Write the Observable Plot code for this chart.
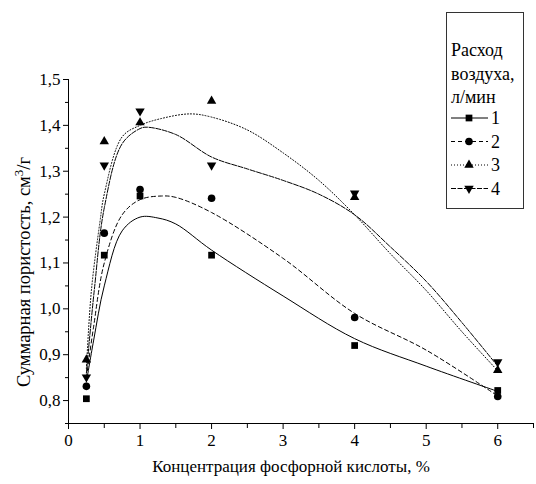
<!DOCTYPE html>
<html>
<head>
<meta charset="utf-8">
<script src="https://cdn.jsdelivr.net/npm/d3@7"></script>
<script src="https://cdn.jsdelivr.net/npm/@observablehq/plot@0.6"></script>
<style>
  html, body { margin: 0; padding: 0; background: #fff; }
  #chart svg { display: block; }
</style>
</head>
<body>
<div id="chart"></div>
<script>
// Measured points
const xs = [0.25, 0.5, 1, 2, 4, 6];
const s1 = [0.804, 1.117, 1.246, 1.117, 0.920, 0.822];
const s2 = [0.831, 1.165, 1.260, 1.241, 0.981, 0.809];
const s3 = [0.889, 1.365, 1.406, 1.453, 1.243, 0.866];
const s4 = [0.851, 1.313, 1.431, 1.313, 1.252, 0.884];

// Fitted curves
const fitX1 = [0.25, 0.35, 0.5, 0.75, 1, 1.25, 1.5, 2, 3, 4, 5, 6];
const fit1  = [0.84, 0.93, 1.05, 1.17, 1.20, 1.198, 1.185, 1.128, 1.028, 0.935, 0.875, 0.82];
const fitX2 = [0.25, 0.35, 0.5, 0.75, 1, 1.3, 1.5, 2, 3, 4, 5, 6];
const fit2  = [0.85, 0.96, 1.10, 1.205, 1.238, 1.246, 1.243, 1.21, 1.11, 0.99, 0.91, 0.81];
const fitX3 = [0.25, 0.32, 0.44, 0.5, 0.75, 1, 1.3, 1.7, 2, 2.5, 3, 3.5, 4, 4.5, 5, 5.5, 6];
const fit3  = [0.87, 1.04, 1.19, 1.25, 1.375, 1.40, 1.415, 1.425, 1.418, 1.39, 1.34, 1.28, 1.205, 1.12, 1.04, 0.95, 0.865];
const fitX4 = [0.25, 0.36, 0.5, 0.75, 1, 1.1, 1.5, 2, 2.5, 3, 3.5, 4, 4.5, 5, 5.5, 6];
const fit4  = [0.86, 1.04, 1.22, 1.36, 1.393, 1.396, 1.38, 1.331, 1.305, 1.28, 1.25, 1.205, 1.135, 1.06, 0.97, 0.875];

const seriesNames = ["1", "2", "3", "4"];
const legendTitle = ["Расход", "воздуха,", "л/мин"];
const xTicks = [0, 1, 2, 3, 4, 5, 6];
const yTicks = [0.8, 0.9, 1.0, 1.1, 1.2, 1.3, 1.4, 1.5];
const xLabel = "Концентрация фосфорной кислоты, %";

function triangle(dir) {
  return {
    draw(ctx, size) {
      const s = Math.sqrt(size * 4 / Math.sqrt(3));
      const h = s * Math.sqrt(3) / 2;
      ctx.moveTo(-s / 2, dir * h / 3);
      ctx.lineTo(s / 2, dir * h / 3);
      ctx.lineTo(0, -dir * 2 * h / 3);
      ctx.closePath();
    }
  };
}
const triUp = triangle(1);
const triDown = triangle(-1);
const symbols = ["square", "circle", triUp, triDown];
const dashes = [null, "4,3", "1,2", "5,1.5"];
const rs = [3.8, 3.8, 3.5, 3.5];

const pts = [];
[s1, s2, s3, s4].forEach((arr, i) => arr.forEach((v, j) => pts.push({x: xs[j], y: v, s: i})));
const fits = [[fitX1, fit1], [fitX2, fit2], [fitX3, fit3], [fitX4, fit4]].map(([fx, fy]) => fx.map((x, j) => ({x, y: fy[j]})));

const fmt = v => d3.format(".1f")(v).replace(".", ",");
const FONT = "'Liberation Serif', 'Times New Roman', Times, 'DejaVu Serif', serif";

const marks = [
  Plot.frame({anchor: "left"}),
  Plot.frame({anchor: "bottom"}),
  Plot.axisY(d3.range(0.75, 1.501, 0.05).filter(v => Math.abs(Math.round(v * 10) - v * 10) > 0.01), {tickSize: 3, tickFormat: () => ""}),
  Plot.axisY(yTicks, {tickSize: 5, tickFormat: fmt, fontSize: 17, tickPadding: 3, label: null}),
  Plot.axisX(d3.range(0.5, 6.6, 1), {tickSize: 5, tickFormat: () => ""}),
  Plot.axisX(xTicks, {tickSize: 6, tickFormat: d => String(d), fontSize: 17, tickPadding: 4, label: null}),
];
fits.forEach((f, i) => {
  marks.push(Plot.line(f, {x: "x", y: "y", curve: "catmull-rom", stroke: "black", strokeWidth: 1, strokeDasharray: dashes[i]}));
});
symbols.forEach((sym, i) => {
  marks.push(Plot.dot(pts.filter(d => d.s === i), {x: "x", y: "y", symbol: sym, r: rs[i], fill: "black", stroke: "none"}));
});

const plot = Plot.plot({
  width: 536,
  height: 484,
  marginLeft: 68,
  marginRight: 3,
  marginTop: 79,
  marginBottom: 61,
  style: {fontFamily: FONT, color: "black", background: "white"},
  x: {domain: [0, 6.5], label: null},
  y: {domain: [0.75, 1.5], label: null},
  marks
});
document.getElementById("chart").appendChild(plot);

const svg = d3.select(plot);
// x title
svg.append("text").attr("x", 291).attr("y", 472).attr("text-anchor", "middle")
  .style("font-family", FONT).attr("font-size", 17).attr("fill", "black").text(xLabel);
// y title with superscript
const yt = svg.append("text").attr("transform", "translate(30,272) rotate(-90)").attr("text-anchor", "middle")
  .style("font-family", FONT).attr("font-size", 18.5).attr("fill", "black");
yt.append("tspan").text("Суммарная пористость, см");
yt.append("tspan").attr("dy", -7).attr("font-size", 13).text("3");
yt.append("tspan").attr("dy", 7).text("/г");

// legend
const lg = svg.append("g").style("font-family", FONT).attr("font-size", 18).attr("fill", "black").attr("text-anchor", "start");
lg.append("rect").attr("x", 446.5).attr("y", 12.5).attr("width", 77).attr("height", 196)
  .attr("fill", "white").attr("stroke", "#333").attr("stroke-width", 1);
legendTitle.forEach((t, i) => lg.append("text").attr("x", 451).attr("y", 56 + i * 23.5).text(t));
seriesNames.forEach((n, i) => {
  const cy = 118 + i * 23.5;
  lg.append("line").attr("x1", 451).attr("x2", 488).attr("y1", cy).attr("y2", cy)
    .attr("stroke", "black").attr("stroke-width", 1).attr("stroke-dasharray", dashes[i]);
  const size = Math.PI * rs[i] * rs[i];
  const sym = typeof symbols[i] === "string" ? (symbols[i] === "square" ? d3.symbolSquare : d3.symbolCircle) : symbols[i];
  lg.append("path").attr("transform", `translate(469,${cy})`).attr("d", d3.symbol(sym, size)()).attr("fill", "black");
  lg.append("text").attr("x", 491).attr("y", cy + 6).text(n);
});
</script>
</body>
</html>
